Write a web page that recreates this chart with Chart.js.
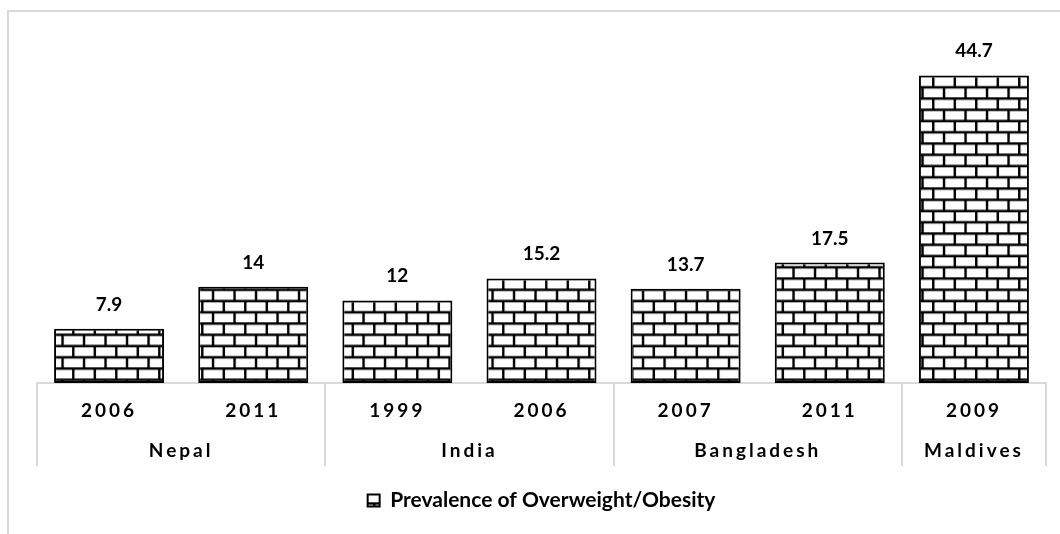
<!DOCTYPE html>
<html>
<head>
<meta charset="utf-8">
<script src="https://cdn.jsdelivr.net/npm/chart.js@4.4.0/dist/chart.umd.min.js"></script>
<style>
  html, body { margin: 0; padding: 0; background: #fff; }
  #wrap { position: relative; width: 1060px; height: 534px; overflow: hidden; }
  #frame { position: absolute; left: 7px; top: 10px; right: -10px; bottom: -10px;
    border-left: 2px solid #d9d9d9; border-top: 2px solid #d9d9d9; }
  canvas { position: absolute; left: 0; top: 0; }
</style>
</head>
<body>
<div id="wrap">
  <div id="frame"></div>
  <canvas id="myChart" width="1060" height="534"></canvas>
</div>
<script>
'use strict';

// data
let years = ['2006', '2011', '1999', '2006', '2007', '2011', '2009'];
let countries = ['Nepal', 'India', 'Bangladesh', 'Maldives'];
let groupSizes = [2, 2, 2, 1];
let prevalence = [7.9, 14, 12, 15.2, 13.7, 17.5, 44.7];
let seriesName = 'Prevalence of Overweight/Obesity';

let chartEl = document.getElementById('myChart');
let ctx = chartEl.getContext('2d');

let fontFamily = 'Lato';
let gridGrey = '#d9d9d9';

// group middles and edges, in category index units
let groupMids = [];
let groupEdges = [-0.5];
let start = 0;
for (let i = 0; i < groupSizes.length; i++) {
  groupMids.push(start + (groupSizes[i] - 1) / 2);
  start += groupSizes[i];
  groupEdges.push(start - 0.5);
}

// excel "brick" fill
function makeBricks() {
  let w = 43, h = 45;
  let rowH = h / 4, brickW = w / 2;
  let c = document.createElement('canvas');
  c.width = w;
  c.height = h;
  let g = c.getContext('2d');
  g.fillStyle = '#fff';
  g.fillRect(0, 0, w, h);
  g.strokeStyle = '#000';
  g.lineWidth = 2.4;
  g.beginPath();
  for (let r = 0; r <= 4; r++) {
    g.moveTo(0, r * rowH);
    g.lineTo(w, r * rowH);
  }
  for (let r = 0; r < 4; r++) {
    let off = r % 2 ? brickW / 2 : 0;
    for (let x = off; x <= w + 0.1; x += brickW) {
      g.moveTo(x, r * rowH);
      g.lineTo(x, (r + 1) * rowH);
    }
  }
  g.stroke();
  let p = ctx.createPattern(c, 'repeat');
  p.setTransform(new DOMMatrix().translate(41, 42.3));
  return p;
}
let bricks = makeBricks();

// letter-spaced axis labels like the excel chart
function spaced(scale) {
  if (scale._spaced) return;
  scale._spaced = true;
  let draw = scale.drawLabels;
  scale.drawLabels = function (area) {
    this.ctx.save();
    this.ctx.letterSpacing = '3px';
    draw.call(this, area);
    this.ctx.restore();
  };
}

let valueLabels = {
  id: 'valueLabels',
  afterDatasetsDraw(chart) {
    let c = chart.ctx;
    let meta = chart.getDatasetMeta(0);
    c.save();
    c.font = 'bold 19px ' + fontFamily;
    c.fillStyle = '#000';
    c.textAlign = 'center';
    c.textBaseline = 'alphabetic';
    meta.data.forEach(function (bar, i) {
      c.fillText(String(prevalence[i]), bar.x, bar.y - 18);
    });
    c.restore();
  }
};

let groupLines = {
  id: 'groupLines',
  afterDraw(chart) {
    let c = chart.ctx;
    let x2 = chart.scales.x2;
    let top = chart.scales.x.top;
    c.save();
    c.strokeStyle = gridGrey;
    c.lineWidth = 2;
    c.beginPath();
    groupEdges.forEach(function (v) {
      let px = Math.round(x2.getPixelForValue(v));
      c.moveTo(px, top);
      c.lineTo(px, x2.bottom);
    });
    c.stroke();
    c.restore();
  }
};

let labelFont = { family: fontFamily, size: 19, weight: 'bold' };

new Chart(ctx, {
  type: 'bar',
  data: {
    labels: years,
    datasets: [{
      label: seriesName,
      data: prevalence,
      backgroundColor: bricks,
      borderColor: '#000',
      borderWidth: 2,
      borderSkipped: false,
      barPercentage: 0.763,
      categoryPercentage: 1
    }]
  },
  options: {
    responsive: false,
    animation: false,
    layout: { padding: { top: 39, left: 37, right: 14, bottom: 13 } },
    scales: {
      y: { display: false, min: 0, max: 50 },
      x: {
        ticks: { font: labelFont, color: '#000', padding: 16, autoSkip: false, maxRotation: 0 },
        grid: { display: false, drawTicks: false },
        border: { display: true, color: gridGrey, width: 2 },
        afterFit(s) { s.height = 50; },
        afterUpdate: spaced
      },
      x2: {
        type: 'linear',
        position: 'bottom',
        weight: 1,
        offset: false,
        min: -0.5,
        max: years.length - 0.5,
        afterBuildTicks(s) {
          s.ticks = groupMids.map(function (v) { return { value: v }; });
        },
        ticks: {
          callback: function (v, i) { return countries[i]; },
          font: labelFont, color: '#000', padding: 6, autoSkip: false, maxRotation: 0
        },
        grid: { display: false, drawTicks: false, offset: false },
        border: { display: false },
        afterFit(s) { s.height = 33; },
        afterUpdate: spaced
      }
    },
    plugins: {
      tooltip: { enabled: false },
      legend: {
        position: 'bottom',
        labels: {
          font: { family: fontFamily, size: 21, weight: 'bold' },
          color: '#000',
          boxWidth: 12,
          boxHeight: 12,
          padding: 24
        }
      }
    }
  },
  plugins: [valueLabels, groupLines]
});
</script>
</body>
</html>
